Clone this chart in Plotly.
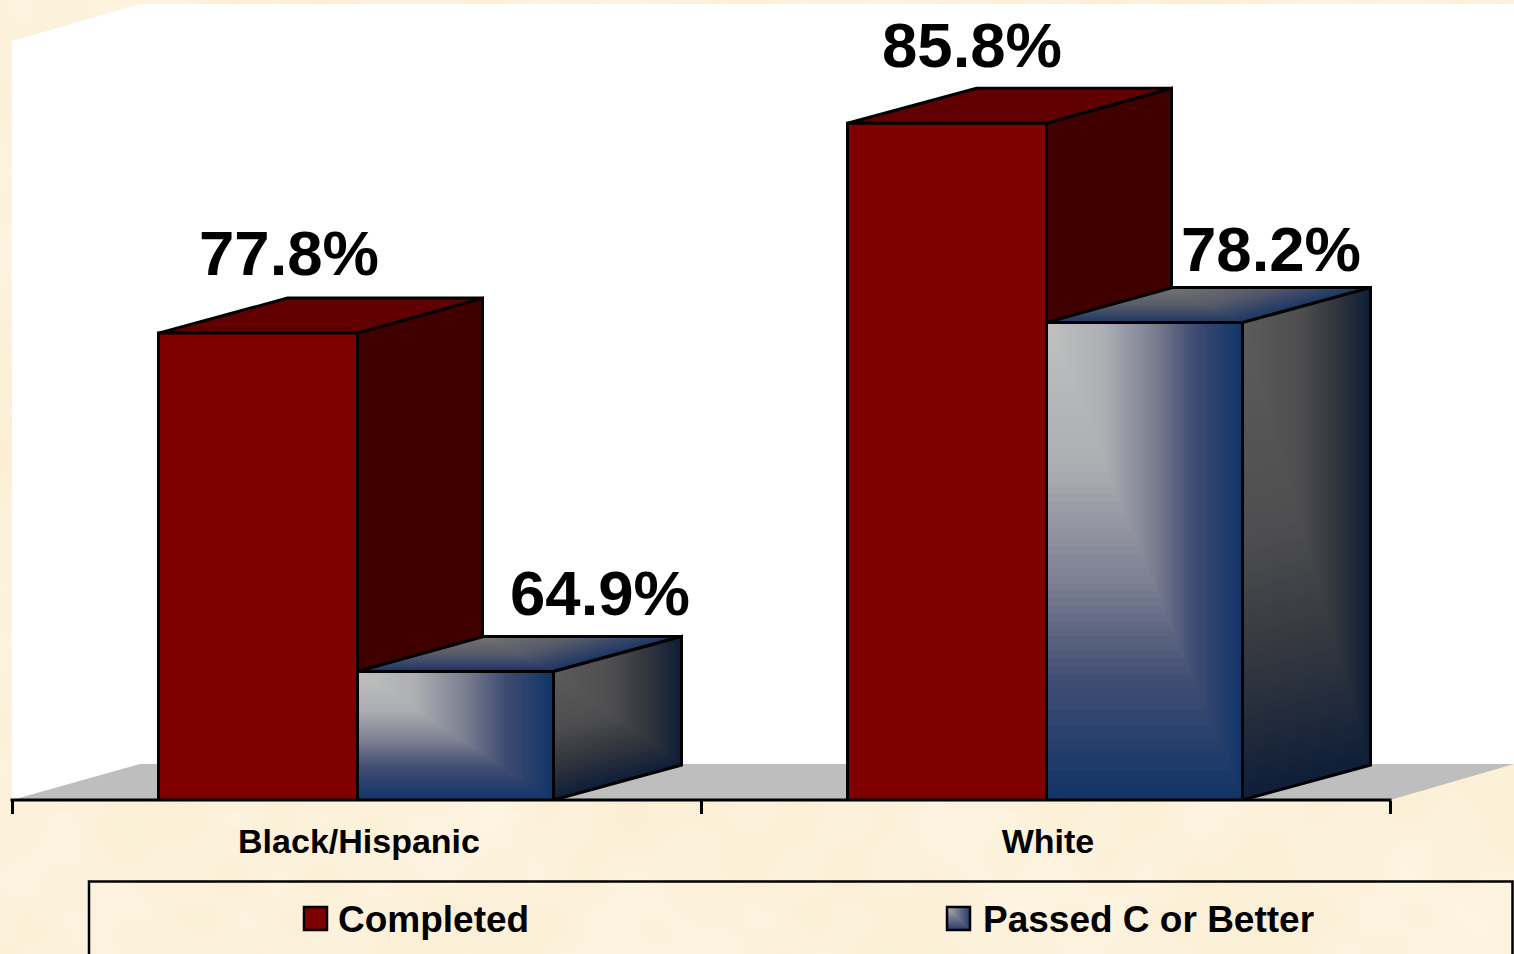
import base64, struct, zlib
import numpy as np
import plotly.graph_objects as go

# ---- data ----
categories = ["Black/Hispanic", "White"]
completed = [77.8, 85.8]
passed = [64.9, 78.2]
series_names = ["Completed", "Passed C or Better"]
label_completed = ["77.8%", "85.8%"]
label_passed = ["64.9%", "78.2%"]

# ---- geometry / style constants (pixels of the 1514x954 page) ----
W, H = 1514, 954
BASE_PX = 800
X0_PX, CAT_PX = 12, 689
PX_PER_UNIT = 26.23
Y_BASE = 60
BLACK = "#000000"
FONT = "Liberation Sans"
EDGE = 3


def xpx(p):
    return (p - X0_PX) / CAT_PX - 0.5


def ypx(p):
    return Y_BASE + (BASE_PX - p) / PX_PER_UNIT


def lerp_color(stops, t):
    for (a, ca), (b, cb) in zip(stops, stops[1:]):
        if t <= b:
            f = (t - a) / (b - a)
            c = [round(ca[i] + (cb[i] - ca[i]) * f) for i in range(3)]
            return f"rgb({c[0]},{c[1]},{c[2]})"
    c = stops[-1][1]
    return f"rgb({c[0]},{c[1]},{c[2]})"


FRONT = [(0, (192, 192, 192)), (.3, (172, 174, 178)), (.55, (122, 126, 144)), (.75, (64, 76, 114)), (1, (16, 52, 104))]
SIDE = [(0, (92, 92, 92)), (.45, (78, 78, 80)), (.7, (54, 56, 64)), (1, (14, 30, 56))]
TOP = [(0, (115, 115, 115)), (.5, (88, 92, 106)), (1, (28, 54, 100))]

shapes = []


def quad(pts, fill=None, line=None, xref="x", yref="y"):
    path = "M" + " L".join(f"{a},{b}" for a, b in pts) + " Z"
    shapes.append(dict(type="path", path=path, xref=xref, yref=yref, layer="below",
                       fillcolor=fill if fill else "rgba(0,0,0,0)",
                       line=dict(width=line or 0, color=BLACK if line else "rgba(0,0,0,0)")))


def gradient(corners, stops, n=64, xref="x", yref="y"):
    """Corner-path gradient over the quad a(top-left) b(top-right) c(bottom-right) d(bottom-left)."""
    a, b, c, d = [np.array(p, dtype=float) for p in corners]

    def at(u, s):
        return tuple((a + (b - a) * u) * (1 - s) + (d + (c - d) * u) * s)

    for k in range(n, 0, -1):
        t = k / n
        quad([at(0, 0), at(t, 0), at(t, t), at(0, t)], fill=lerp_color(stops, (k - .5) / n), xref=xref, yref=yref)


# wall and floor
quad([(xpx(12), ypx(800)), (xpx(12), ypx(41)), (xpx(140), ypx(4)), (xpx(1514), ypx(4)),
      (xpx(1514), ypx(764)), (xpx(140), ypx(764))], fill="#ffffff")
quad([(xpx(12), ypx(800)), (xpx(140), ypx(764)), (xpx(1514), ypx(764)), (xpx(1390), ypx(800))], fill="rgb(190,190,190)")

DEPTH_Y = 35 / PX_PER_UNIT
W_RED = 199 / CAT_PX
W_BLUE = 196 / CAT_PX
NUDGE = 1 / CAT_PX
D_RED_L, D_RED_R = 129 / CAT_PX, 125 / CAT_PX
D_BLUE_L, D_BLUE_R = 126 / CAT_PX, 128 / CAT_PX

for i in range(len(categories)):
    # red back faces
    v = completed[i]
    xl, xr = i - W_RED + NUDGE, i + NUDGE
    quad([(xr, Y_BASE), (xr, v), (xr + D_RED_R, v + DEPTH_Y), (xr + D_RED_R, Y_BASE + DEPTH_Y)], fill="rgb(64,0,0)", line=EDGE)
    quad([(xl, v), (xl + D_RED_L, v + DEPTH_Y), (xr + D_RED_R, v + DEPTH_Y), (xr, v)], fill="rgb(96,0,0)", line=EDGE)
    # blue faces
    v = passed[i]
    xl, xr = i + NUDGE, i + NUDGE + W_BLUE
    top = [(xl + D_BLUE_L, v + DEPTH_Y), (xr + D_BLUE_R, v + DEPTH_Y), (xr, v), (xl, v)]
    side = [(xr, v), (xr + D_BLUE_R, v + DEPTH_Y), (xr + D_BLUE_R, Y_BASE + DEPTH_Y), (xr, Y_BASE)]
    front = [(xl, v), (xr, v), (xr, Y_BASE), (xl, Y_BASE)]
    gradient(top, TOP)
    quad(top, line=EDGE)
    gradient(side, SIDE)
    quad(side, line=EDGE)
    gradient(front, FRONT)


def paper(px, py):
    return (px / W, (BASE_PX - py) / BASE_PX)


# legend frame and swatches
frame = [paper(89, 960), paper(89, 881.5), paper(1512.5, 881.5), paper(1512.5, 960)]
shapes.append(dict(type="path", path="M" + " L".join(f"{a},{b}" for a, b in frame),
                   xref="paper", yref="paper", layer="below", line=dict(width=2.5, color=BLACK)))
for x0, colour in ((304, "rgb(128,0,0)"), (947, None)):
    corners = [paper(x0, 907), paper(x0 + 23, 907), paper(x0 + 23, 930), paper(x0, 930)]
    if colour:
        quad(corners, fill=colour, xref="paper", yref="paper")
    else:
        gradient(corners, [(0, (178, 178, 182)), (.5, (110, 116, 138)), (1, (40, 60, 110))], n=16, xref="paper", yref="paper")
    quad(corners, line=2.5, xref="paper", yref="paper")

# axis line
shapes.append(dict(type="line", xref="x", yref="paper", x0=-0.5 - 1.5 / CAT_PX, x1=1.5 + 1.5 / CAT_PX, y0=0, y1=0,
                   layer="above", line=dict(width=3, color=BLACK)))


# soft mottled page background, written as a small PNG
def texture(w=380, h=240):
    yy, xx = np.mgrid[0:h, 0:w]
    m = (np.sin(xx / 17 + np.sin(yy / 23) * 2) + np.sin(yy / 13 + np.cos(xx / 29) * 3)
         + np.sin((xx + yy) / 5 + np.sin(xx / 11)) * .7 + np.sin((xx - yy) / 3.5 + np.cos(yy / 7)) * .5)
    m = m / 3.0
    r = 252.5 + 1.5 * m
    g = 241.5 + 3 * m
    b = 219 + 7 * m
    img = np.clip(np.dstack([r, g, b]), 0, 255).astype(np.uint8)
    raw = b"".join(b"\x00" + img[j].tobytes() for j in range(h))

    def chunk(tag, data):
        return struct.pack(">I", len(data)) + tag + data + struct.pack(">I", zlib.crc32(tag + data))

    png = b"\x89PNG\r\n\x1a\n" + chunk(b"IHDR", struct.pack(">IIBBBBB", w, h, 8, 2, 0, 0, 0)) \
        + chunk(b"IDAT", zlib.compress(raw)) + chunk(b"IEND", b"")
    return "data:image/png;base64," + base64.b64encode(png).decode()


fig = go.Figure()
positions = list(range(len(categories)))
fig.add_trace(go.Bar(x=positions, y=completed, width=W_RED, offset=-W_RED + NUDGE, showlegend=False,
                     name=series_names[0], marker=dict(color="rgb(128,0,0)", line=dict(color=BLACK, width=EDGE))))
fig.add_trace(go.Bar(x=positions, y=passed, width=W_BLUE, offset=NUDGE, showlegend=False,
                     name=series_names[1], marker=dict(color="rgba(0,0,0,0)", line=dict(color=BLACK, width=EDGE))))
fig.add_trace(go.Scatter(x=[None], y=[None], mode="markers", name=series_names[0],
                         marker=dict(symbol="square", size=12, color="rgb(128,0,0)")))
fig.add_trace(go.Scatter(x=[None], y=[None], mode="markers", name=series_names[1],
                         marker=dict(symbol="square", size=12, color="rgba(0,0,0,0)")))

# data labels: centre offset from the bar's left front edge, height above its front top edge (px)
LABEL_FONT = dict(family=FONT, size=63.5, color=BLACK, weight="bold")
annotations = []
red_dx, red_dy = [130, 124], [80, 78]
blue_dx, blue_dy = [242, 224], [78, 74]
for i in positions:
    annotations.append(dict(x=i - W_RED + NUDGE + red_dx[i] / CAT_PX, y=completed[i], yshift=red_dy[i], text=label_completed[i],
                            showarrow=False, font=LABEL_FONT, xanchor="center", yanchor="middle"))
    annotations.append(dict(x=i + NUDGE + blue_dx[i] / CAT_PX, y=passed[i], yshift=blue_dy[i], text=label_passed[i],
                            showarrow=False, font=LABEL_FONT, xanchor="center", yanchor="middle"))

TICK_NUDGE = 2.5 / CAT_PX
fig.update_layout(
    width=W, height=H,
    margin=dict(l=0, r=0, t=0, b=H - BASE_PX, pad=0, autoexpand=False),
    paper_bgcolor="rgba(0,0,0,0)", plot_bgcolor="rgba(0,0,0,0)",
    barmode="overlay",
    shapes=shapes, annotations=annotations,
    images=[dict(source=texture(), xref="paper", yref="paper", x=0, y=1, sizex=1, sizey=H / BASE_PX,
                 xanchor="left", yanchor="top", sizing="stretch", layer="below")],
    xaxis=dict(range=[xpx(0), xpx(W)], showgrid=False, zeroline=False, showline=False,
               tickmode="array", tickvals=[p + TICK_NUDGE for p in positions], ticktext=categories, ticks="", ticklabelstandoff=18,
               tickfont=dict(family=FONT, size=34, color=BLACK, weight="bold"),
               minor=dict(tickmode="array", tickvals=[-0.5, 0.5, 1.5], ticks="outside", ticklen=13, tickwidth=3, tickcolor=BLACK, showgrid=False)),
    yaxis=dict(range=[Y_BASE, ypx(0)], visible=False, showgrid=False, zeroline=False),
    legend=dict(orientation="h", x=298 / W, y=(BASE_PX - 887) / BASE_PX, xanchor="left", yanchor="top",
                entrywidth=600, entrywidthmode="pixels", bgcolor="rgba(0,0,0,0)", borderwidth=0,
                font=dict(family=FONT, size=37, color=BLACK, weight="bold")),
    showlegend=True,
)

fig.write_html("out.html", config=dict(displayModeBar=False),
               post_script="document.body.style.margin='0';document.body.style.overflow='hidden';")
